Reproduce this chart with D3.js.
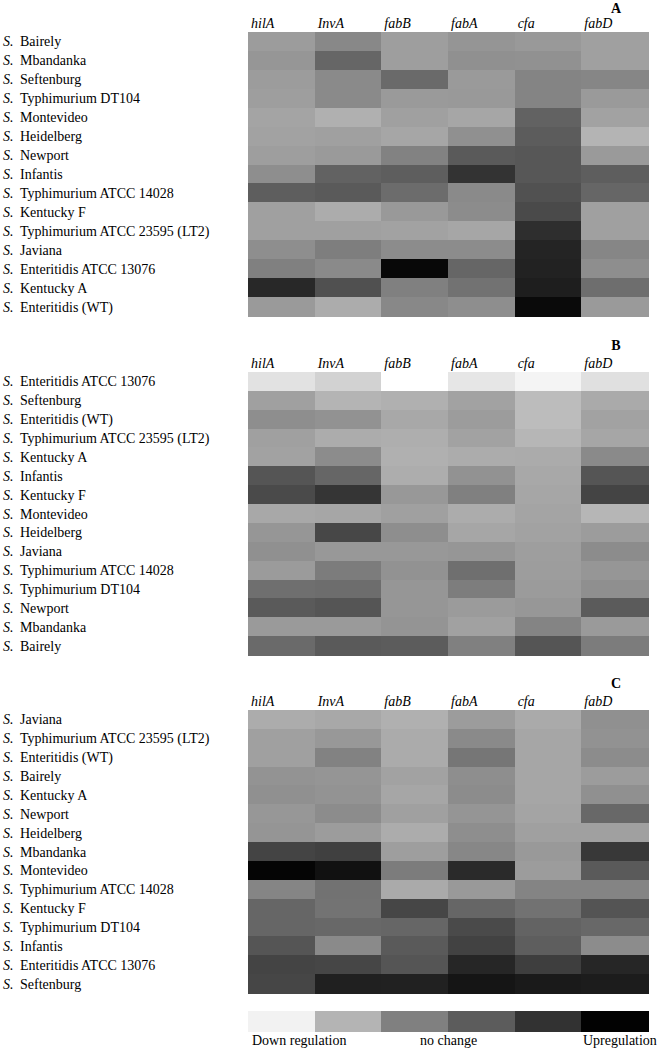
<!DOCTYPE html>
<html><head><meta charset="utf-8">
<script src="https://cdn.jsdelivr.net/npm/d3@7"></script>
<style>body{margin:0;background:#fff} svg{display:block}</style>
</head><body>
<svg id="chart" width="660" height="1049"></svg>
<script>
// Genes (columns)
const genes = ["hilA", "InvA", "fabB", "fabA", "cfa", "fabD"];

// Panel A strains (rows) and grey-level intensities (0 = black / upregulation, 255 = white / down regulation)
const strainsA = ["Bairely", "Mbandanka", "Seftenburg", "Typhimurium DT104", "Montevideo", "Heidelberg",
  "Newport", "Infantis", "Typhimurium ATCC 14028", "Kentucky F", "Typhimurium ATCC 23595 (LT2)",
  "Javiana", "Enteritidis ATCC 13076", "Kentucky A", "Enteritidis (WT)"];
const valuesA = [
  [156, 136, 158, 149, 153, 160],
  [150, 102, 158, 144, 145, 160],
  [156, 138, 106, 154, 132, 134],
  [158, 138, 154, 153, 132, 154],
  [164, 176, 160, 166,  98, 162],
  [162, 160, 166, 144,  92, 180],
  [158, 154, 130,  90,  87, 154],
  [142,  98,  94,  51,  87,  94],
  [ 94,  90, 108, 138,  81, 102],
  [160, 172, 153, 140,  74, 160],
  [160, 160, 162, 166,  46, 160],
  [142, 126, 140, 140,  36, 134],
  [128, 138,   8, 102,  34, 142],
  [ 40,  80, 128, 114,  30, 110],
  [154, 172, 136, 142,  10, 154]
];

// Panel B
const strainsB = ["Enteritidis ATCC 13076", "Seftenburg", "Enteritidis (WT)", "Typhimurium ATCC 23595 (LT2)",
  "Kentucky A", "Infantis", "Kentucky F", "Montevideo", "Heidelberg", "Javiana",
  "Typhimurium ATCC 14028", "Typhimurium DT104", "Newport", "Mbandanka", "Bairely"];
const valuesB = [
  [226, 210, 255, 230, 244, 224],
  [160, 180, 176, 162, 188, 170],
  [142, 146, 168, 156, 188, 162],
  [160, 172, 174, 162, 182, 166],
  [162, 140, 176, 172, 171, 138],
  [ 85, 102, 173, 146, 168,  85],
  [ 74,  53, 152, 128, 166,  68],
  [168, 166, 160, 172, 164, 182],
  [150,  71, 142, 166, 162, 156],
  [144, 152, 152, 150, 158, 140],
  [155, 124, 146, 111, 157, 150],
  [111, 109, 150, 125, 155, 143],
  [ 90,  85, 150, 155, 151,  91],
  [154, 154, 148, 161, 132, 154],
  [106,  90,  92, 128,  85, 124]
];

// Panel C
const strainsC = ["Javiana", "Typhimurium ATCC 23595 (LT2)", "Enteritidis (WT)", "Bairely", "Kentucky A",
  "Newport", "Heidelberg", "Mbandanka", "Montevideo", "Typhimurium ATCC 14028", "Kentucky F",
  "Typhimurium DT104", "Infantis", "Enteritidis ATCC 13076", "Seftenburg"];
const valuesC = [
  [172, 168, 176, 156, 170, 144],
  [160, 152, 171, 138, 166, 146],
  [160, 130, 171, 118, 166, 140],
  [147, 149, 162, 142, 166, 156],
  [144, 147, 166, 140, 166, 144],
  [151, 140, 160, 149, 164, 104],
  [149, 156, 172, 142, 160, 160],
  [ 68,  64, 158, 135, 153,  56],
  [  5,  17, 124,  42, 156,  90],
  [133, 114, 170, 153, 132, 132],
  [102, 115,  70, 102, 114,  84],
  [102, 104, 102,  74,  99, 104],
  [ 85, 138,  90,  66,  94, 140],
  [ 68,  70,  85,  38,  62,  38],
  [ 70,  32,  33,  21,  26,  28]
];

// Legend
const legendShades = [242, 180, 128, 92, 50, 2];
const legendLabels = ["Down regulation", "no change", "Upregulation"];

const svg = d3.select("#chart");
const serif = "'Liberation Serif', 'Times New Roman', serif";
const x = d3.scaleBand().domain(genes).range([248, 648]);
const gray = d3.scaleLinear().domain([0, 255]).range(["#000000", "#ffffff"]);

const panels = [
  { label: "A", strains: strainsA, values: valuesA, top: 32, bottom: 316 },
  { label: "B", strains: strainsB, values: valuesB, top: 372, bottom: 655 },
  { label: "C", strains: strainsC, values: valuesC, top: 710, bottom: 993 }
];

panels.forEach(p => {
  const y = d3.scaleBand().domain(d3.range(p.strains.length)).range([p.top, p.bottom]);
  const g = svg.append("g");

  const cells = [];
  p.values.forEach((row, i) => row.forEach((v, j) => cells.push({ i, gene: genes[j], v })));
  g.selectAll("rect.cell").data(cells).join("rect")
    .attr("class", "cell")
    .attr("x", d => x(d.gene))
    .attr("y", d => y(d.i))
    .attr("width", x.bandwidth() + 0.5)
    .attr("height", y.bandwidth() + 0.5)
    .attr("fill", d => gray(d.v))
    .attr("shape-rendering", "crispEdges");

  // column headers
  g.selectAll("text.gene").data(genes).join("text")
    .attr("class", "gene")
    .attr("x", d => x(d) + 3)
    .attr("y", p.top - 4)
    .attr("font-family", serif).attr("font-style", "italic").attr("font-size", 14)
    .text(d => d);

  // panel letter
  g.append("text")
    .attr("x", 616).attr("y", Math.max(p.top - 22, 13))
    .attr("text-anchor", "middle")
    .attr("font-family", serif).attr("font-weight", "bold").attr("font-size", 14)
    .text(p.label);

  // row labels
  const rl = g.selectAll("text.strain").data(p.strains).join("text")
    .attr("class", "strain")
    .attr("y", (d, i) => y(i) + y.bandwidth() / 2 + 5)
    .attr("font-family", serif).attr("font-size", 14);
  rl.append("tspan").attr("x", 3).attr("font-style", "italic").text("S.");
  rl.append("tspan").attr("x", 20).text(d => d);
});

// legend
const lx = d3.scaleBand().domain(d3.range(legendShades.length)).range([248, 648]);
svg.append("g").selectAll("rect").data(legendShades).join("rect")
  .attr("x", (d, i) => lx(i))
  .attr("y", 1011)
  .attr("width", lx.bandwidth() + 0.5)
  .attr("height", 21)
  .attr("fill", d => gray(d))
  .attr("shape-rendering", "crispEdges");

const legendX = [252, 420, 583];
svg.append("g").selectAll("text").data(legendLabels).join("text")
  .attr("x", (d, i) => legendX[i])
  .attr("y", 1045)
  .attr("font-family", serif).attr("font-size", 14)
  .text(d => d);
</script>
</body></html>
